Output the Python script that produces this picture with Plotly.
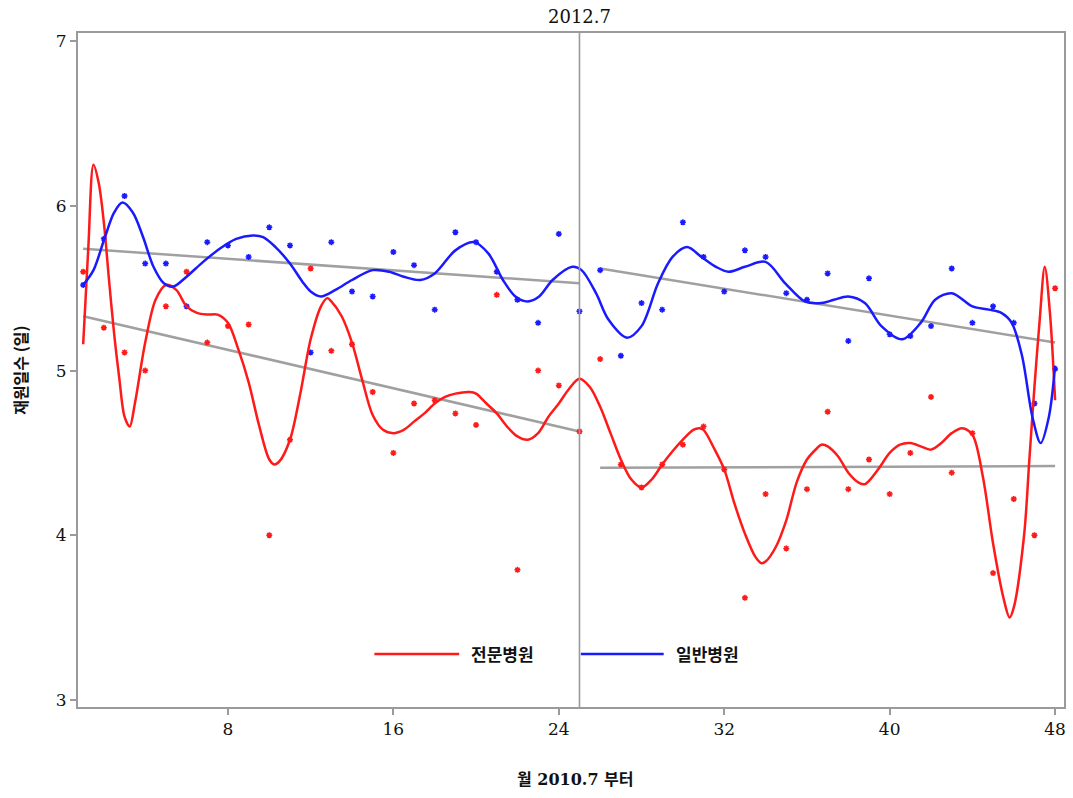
import plotly.graph_objects as go

# Monthly length-of-stay observations (months counted from 2010.7)
months = list(range(1, 49))
specialty_los = [5.60, 5.26, 5.11, 5.00, 5.39, 5.60, 5.17, 5.27, 5.28, 4.00,
                 4.58, 5.62, 5.12, 5.16, 4.87, 4.50, 4.80, 4.82, 4.74, 4.67,
                 5.46, 3.79, 5.00, 4.91, 4.63, 5.07, 4.43, 4.29, 4.43, 4.55,
                 4.66, 4.40, 3.62, 4.25, 3.92, 4.28, 4.75, 4.28, 4.46, 4.25,
                 4.50, 4.84, 4.38, 4.62, 3.77, 4.22, 4.00, 5.50]
general_los = [5.52, 5.80, 6.06, 5.65, 5.65, 5.39, 5.78, 5.76, 5.69, 5.87,
               5.76, 5.11, 5.78, 5.48, 5.45, 5.72, 5.64, 5.37, 5.84, 5.78,
               5.60, 5.43, 5.29, 5.83, 5.36, 5.61, 5.09, 5.41, 5.37, 5.90,
               5.69, 5.48, 5.73, 5.69, 5.47, 5.43, 5.59, 5.18, 5.56, 5.22,
               5.21, 5.27, 5.62, 5.29, 5.39, 5.29, 4.80, 5.01]

# Smoothed (penalized spline) curves
specialty_smooth_x = [1.0, 1.25, 1.5, 1.75, 2.0, 2.25, 2.5, 2.75, 3.0, 3.25, 3.5, 4.0,
                      4.5, 5.0, 5.5, 6.0, 6.5, 7.0, 7.5, 8.0, 8.5, 9.0, 9.5, 10.0,
                      10.25, 10.5, 11.0, 11.5, 12.0, 12.5, 12.8, 13.0, 13.5, 14.0,
                      14.5, 15.0, 15.5, 16.0, 16.5, 17.0, 17.5, 18.0, 18.5, 19.0,
                      19.7, 20.0, 20.5, 21.0, 21.5, 22.0, 22.5, 23.0, 23.5, 24.0,
                      24.5, 25.0, 25.5, 26.0, 26.5, 27.0, 27.5, 28.0, 28.5, 29.0,
                      29.5, 30.0, 30.5, 30.8, 31.0, 31.5, 32.0, 32.5, 33.0, 33.5,
                      33.8, 34.0, 34.5, 35.0, 35.5, 36.0, 36.5, 36.7, 37.0, 37.5,
                      38.0, 38.5, 38.8, 39.0, 39.5, 40.0, 40.5, 41.0, 41.5, 42.0,
                      42.5, 43.0, 43.5, 44.0, 44.5, 45.0, 45.5, 45.8, 46.0, 46.5,
                      46.75, 47.0, 47.25, 47.5, 47.75, 48.0]
specialty_smooth_y = [5.16, 5.75, 6.25, 6.14, 5.90, 5.55, 5.22, 4.95, 4.72, 4.66, 4.80, 5.17,
                      5.43, 5.52, 5.49, 5.39, 5.35, 5.34, 5.34, 5.29, 5.13, 4.93, 4.67, 4.46,
                      4.43, 4.45, 4.58, 4.86, 5.19, 5.39, 5.44, 5.42, 5.33, 5.17,
                      4.94, 4.73, 4.64, 4.62, 4.64, 4.69, 4.74, 4.80, 4.84, 4.86,
                      4.87, 4.86, 4.80, 4.74, 4.66, 4.60, 4.58, 4.62, 4.72, 4.80,
                      4.89, 4.95, 4.90, 4.78, 4.62, 4.46, 4.34, 4.29, 4.34, 4.43,
                      4.51, 4.58, 4.64, 4.65, 4.64, 4.53, 4.40, 4.19, 4.01, 3.87,
                      3.83, 3.84, 3.93, 4.09, 4.32, 4.46, 4.53, 4.55, 4.54, 4.48,
                      4.38, 4.32, 4.31, 4.33, 4.41, 4.50, 4.55, 4.56, 4.54, 4.52,
                      4.56, 4.62, 4.65, 4.61, 4.36, 3.95, 3.62, 3.50, 3.56, 4.00,
                      4.45, 4.90, 5.30, 5.63, 5.35, 4.82]

general_smooth_x = [1.0, 1.5, 2.0, 2.5, 2.9, 3.4, 3.9, 4.4, 4.9, 5.35, 6.0, 6.8, 7.6,
                    8.4, 9.2, 9.7, 10.3, 11.0, 11.6, 12.0, 12.5, 13.2, 14.0, 15.0,
                    15.8, 16.5, 17.3, 18.0, 19.0, 19.9, 20.6, 21.3, 21.9, 22.5,
                    23.05, 23.7, 24.65, 25.1, 25.8, 26.4, 27.3, 28.0, 28.8, 29.5,
                    30.2, 30.9, 31.6, 32.2, 33.0, 34.0, 34.95, 35.9, 36.7, 37.3,
                    38.0, 38.8, 39.6, 40.6, 41.5, 42.2, 43.0, 44.0, 44.8, 45.4,
                    45.9, 46.4, 46.9, 47.3, 47.7, 48.0]
general_smooth_y = [5.52, 5.61, 5.79, 5.96, 6.02, 5.96, 5.81, 5.63, 5.53, 5.51, 5.57, 5.66, 5.74,
                    5.80, 5.82, 5.81, 5.75, 5.65, 5.54, 5.48, 5.45, 5.49, 5.55, 5.61,
                    5.60, 5.57, 5.55, 5.59, 5.73, 5.78, 5.71, 5.55, 5.45, 5.42,
                    5.45, 5.55, 5.63, 5.61, 5.47, 5.31, 5.20, 5.27, 5.53, 5.69,
                    5.75, 5.69, 5.63, 5.60, 5.63, 5.66, 5.53, 5.42, 5.41, 5.43,
                    5.45, 5.41, 5.27, 5.19, 5.29, 5.43, 5.47, 5.39, 5.37, 5.35,
                    5.29, 5.09, 4.72, 4.56, 4.72, 5.03]

# Segmented linear trends before / after 2012.7 (month 25)
trend_x_pre = [1, 25]
trend_x_post = [26, 48]
specialty_trend_pre = [5.33, 4.63]
specialty_trend_post = [4.41, 4.42]
general_trend_pre = [5.74, 5.53]
general_trend_post = [5.62, 5.17]

break_month = 25
break_label = "2012.7"
series_names = ["전문병원", "일반병원"]
x_ticks = [8, 16, 24, 32, 40, 48]
y_ticks = [3, 4, 5, 6, 7]

RED = "#ff1a1a"
BLUE = "#1a1aff"
GRAY = "#a0a0a0"
AXIS = "#9a9a9a"

fig = go.Figure()

# trend lines
for tx, ty in [(trend_x_pre, specialty_trend_pre), (trend_x_post, specialty_trend_post),
               (trend_x_pre, general_trend_pre), (trend_x_post, general_trend_post)]:
    fig.add_trace(go.Scatter(x=tx, y=ty, mode="lines", showlegend=False,
                             line=dict(color=GRAY, width=2.5), hoverinfo="skip"))

# observed points
fig.add_trace(go.Scatter(x=months, y=specialty_los, mode="markers", showlegend=False,
                         marker=dict(symbol="asterisk-open", size=5, color=RED,
                                     line=dict(color=RED, width=1.5))))
fig.add_trace(go.Scatter(x=months, y=general_los, mode="markers", showlegend=False,
                         marker=dict(symbol="asterisk-open", size=5, color=BLUE,
                                     line=dict(color=BLUE, width=1.5))))

# smoothed curves
fig.add_trace(go.Scatter(x=specialty_smooth_x, y=specialty_smooth_y, mode="lines",
                         name=series_names[0], showlegend=False,
                         line=dict(color=RED, width=2.5, shape="spline", smoothing=0.9)))
fig.add_trace(go.Scatter(x=general_smooth_x, y=general_smooth_y, mode="lines",
                         name=series_names[1], showlegend=False,
                         line=dict(color=BLUE, width=2.5, shape="spline", smoothing=0.9)))

# break line
fig.add_shape(type="line", xref="x", yref="paper", x0=break_month, x1=break_month,
              y0=0, y1=1, line=dict(color=AXIS, width=1.6), layer="above")

num_font = dict(family="DejaVu Serif", size=17, color="#111111")
kr_font = dict(family="Noto Sans CJK KR", size=16, color="#111111", weight=700)

annotations = [
    dict(text=break_label, xref="x", yref="paper", x=break_month, y=1.0,
         yanchor="bottom", yshift=4, showarrow=False,
         font=dict(family="DejaVu Serif", size=18, color="#111111")),
    dict(text="월 2010.7 부터", xref="paper", yref="paper", x=0.505, y=-0.108,
         xanchor="center", yanchor="middle", showarrow=False,
         font=dict(family="DejaVu Serif, Noto Sans CJK KR", size=16, color="#111111",
                   weight=700)),
    dict(text="재원일수 (일)", xref="paper", yref="paper", x=-0.059, y=0.5,
         xanchor="center", yanchor="middle",
         textangle=-90, showarrow=False, font=kr_font),
]

# legend drawn as line samples with labels
legend_y = 0.0787
legend_items = [(RED, 0.3006, 0.3866, 0.397), (BLUE, 0.510, 0.594, 0.604)]
for (color, lx0, lx1, tx), name in zip(legend_items, series_names):
    fig.add_shape(type="line", xref="paper", yref="paper", x0=lx0, x1=lx1,
                  y0=legend_y, y1=legend_y, line=dict(color=color, width=2.5))
    annotations.append(dict(text=name, xref="paper", yref="paper", x=tx, y=legend_y,
                            xanchor="left", yanchor="middle", showarrow=False,
                            font=dict(family="Noto Sans CJK KR", size=17,
                                      color="#111111", weight=700)))

fig.update_layout(
    width=1073, height=798,
    margin=dict(l=78, r=7, t=33, b=91),
    paper_bgcolor="white", plot_bgcolor="white",
    showlegend=False,
    annotations=annotations,
    xaxis=dict(range=[0.75, 48.43], tickvals=x_ticks, showgrid=False, zeroline=False,
               showline=True, linecolor=AXIS, linewidth=2, mirror=True,
               ticks="outside", ticklen=6, tickcolor=AXIS, tickwidth=1.5,
               tickfont=num_font),
    yaxis=dict(range=[2.957, 7.05], tickvals=y_ticks, showgrid=False, zeroline=False,
               showline=True, linecolor=AXIS, linewidth=2, mirror=True,
               ticks="outside", ticklen=6, tickcolor=AXIS, tickwidth=1.5,
               tickfont=num_font),
)

fig.write_html("out.html")
